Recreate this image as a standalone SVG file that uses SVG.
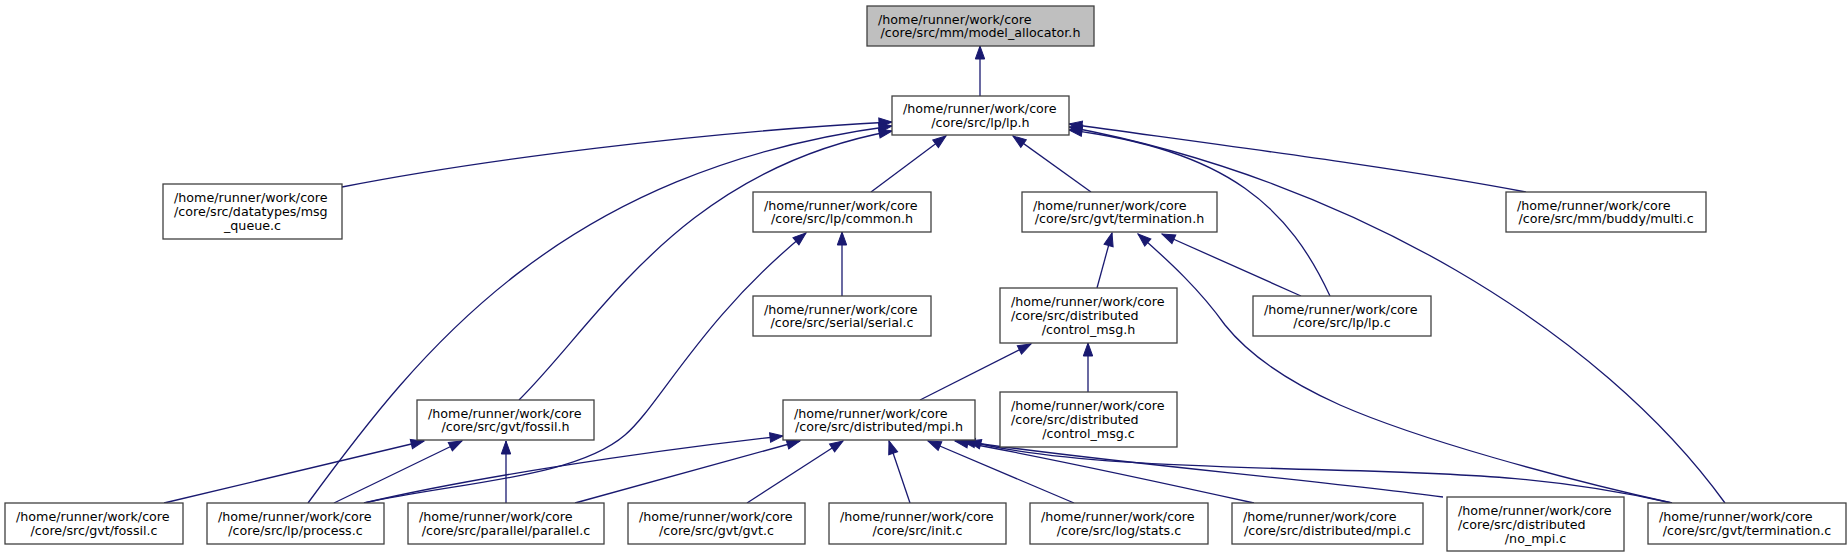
<svg xmlns="http://www.w3.org/2000/svg" width="1847" height="557" viewBox="0 0 1847 557">
<style>
.n rect{fill:#ffffff;stroke:#404040;stroke-width:1.3}
.n.root rect{fill:#bfbfbf}
text{font-family:"DejaVu Sans",sans-serif;font-size:12.7px;fill:#000000}
.m{text-anchor:middle}
.e path{fill:none;stroke:#191970;stroke-width:1.3;marker-end:url(#a)}
</style>
<defs>
<marker id="a" markerUnits="userSpaceOnUse" viewBox="-1 -1 16 12" markerWidth="16" markerHeight="12" refX="13" refY="5" orient="auto">
<path d="M0,0.3 L13,5 L0,9.7 z" fill="#191970" stroke="#191970" stroke-width="1"/>
</marker>
</defs>
<rect width="1847" height="557" fill="#ffffff"/>
<g id="connectors" class="e">
<path d="M980,96 L980,46"/>
<path d="M342,187 C480,160 700,132 892,122"/>
<path d="M308,503 C420,350 560,170 892,126"/>
<path d="M519,400 C600,320 680,170 892,131"/>
<path d="M871,192 L946,136"/>
<path d="M1091,192 L1013,136"/>
<path d="M1330,296 C1290,210 1230,150 1069,130"/>
<path d="M1725,503 C1600,330 1350,180 1069,127"/>
<path d="M1526,192 C1400,168 1220,145 1069,124"/>
<path d="M842,296 L842,232"/>
<path d="M364,503 C460,482 575,478 625,435 C660,405 700,320 806,233"/>
<path d="M164,503 L424,441"/>
<path d="M334,503 L462,441"/>
<path d="M506,503 L506,441"/>
<path d="M1097,288 L1112,233"/>
<path d="M1672,503 C1560,478 1420,440 1340,405 C1280,378 1245,350 1225,325 C1200,290 1170,262 1138,234"/>
<path d="M1301,296 L1162,234"/>
<path d="M1088,392 L1088,343"/>
<path d="M920,400 L1031,344"/>
<path d="M364,503 C470,478 640,452 783,436"/>
<path d="M575,503 L800,441"/>
<path d="M747,503 L843,441"/>
<path d="M910,503 L889,441"/>
<path d="M1074,503 L928,441"/>
<path d="M1254,503 C1150,480 1050,458 955,441"/>
<path d="M1443,497 C1300,478 1100,462 962,441"/>
<path d="M1672,503 C1560,478 1480,474 1330,470 C1180,466 1050,462 968,441"/>
</g>
<g id="model_allocator_h" class="n root"><rect x="867" y="6" width="227" height="40"/><text x="878" y="23.5">/home/runner/work/core</text><text class="m" x="980.5" y="37">/core/src/mm/model_allocator.h</text></g>
<g id="lp_h" class="n"><rect x="892" y="96" width="177" height="39"/><text x="903" y="113">/home/runner/work/core</text><text class="m" x="980.5" y="126.5">/core/src/lp/lp.h</text></g>
<g id="msg_queue_c" class="n"><rect x="163" y="184" width="179" height="55"/><text x="174" y="202">/home/runner/work/core</text><text x="174" y="216">/core/src/datatypes/msg</text><text class="m" x="252.5" y="230">_queue.c</text></g>
<g id="common_h" class="n"><rect x="753" y="192" width="178" height="40"/><text x="764" y="209.5">/home/runner/work/core</text><text class="m" x="842" y="223">/core/src/lp/common.h</text></g>
<g id="termination_h" class="n"><rect x="1022" y="192" width="195" height="40"/><text x="1033" y="209.5">/home/runner/work/core</text><text class="m" x="1119.5" y="223">/core/src/gvt/termination.h</text></g>
<g id="multi_c" class="n"><rect x="1506" y="192" width="200" height="40"/><text x="1517" y="209.5">/home/runner/work/core</text><text class="m" x="1606" y="223">/core/src/mm/buddy/multi.c</text></g>
<g id="fossil_h" class="n"><rect x="417" y="400" width="177" height="40"/><text x="428" y="417.5">/home/runner/work/core</text><text class="m" x="505.5" y="431">/core/src/gvt/fossil.h</text></g>
<g id="serial_c" class="n"><rect x="753" y="296" width="178" height="40"/><text x="764" y="313.5">/home/runner/work/core</text><text class="m" x="842" y="327">/core/src/serial/serial.c</text></g>
<g id="control_msg_h" class="n"><rect x="1000" y="288" width="177" height="55"/><text x="1011" y="306">/home/runner/work/core</text><text x="1011" y="320">/core/src/distributed</text><text class="m" x="1088.5" y="334">/control_msg.h</text></g>
<g id="lp_c" class="n"><rect x="1253" y="296" width="178" height="40"/><text x="1264" y="313.5">/home/runner/work/core</text><text class="m" x="1342" y="327">/core/src/lp/lp.c</text></g>
<g id="control_msg_c" class="n"><rect x="1000" y="392" width="177" height="55"/><text x="1011" y="410">/home/runner/work/core</text><text x="1011" y="424">/core/src/distributed</text><text class="m" x="1088.5" y="438">/control_msg.c</text></g>
<g id="mpi_h" class="n"><rect x="783" y="400" width="192" height="40"/><text x="794" y="417.5">/home/runner/work/core</text><text class="m" x="879" y="431">/core/src/distributed/mpi.h</text></g>
<g id="fossil_c" class="n"><rect x="5" y="503" width="178" height="41"/><text x="16" y="521">/home/runner/work/core</text><text class="m" x="94" y="534.5">/core/src/gvt/fossil.c</text></g>
<g id="process_c" class="n"><rect x="207" y="503" width="177" height="41"/><text x="218" y="521">/home/runner/work/core</text><text class="m" x="295.5" y="534.5">/core/src/lp/process.c</text></g>
<g id="parallel_c" class="n"><rect x="408" y="503" width="196" height="41"/><text x="419" y="521">/home/runner/work/core</text><text class="m" x="506" y="534.5">/core/src/parallel/parallel.c</text></g>
<g id="gvt_c" class="n"><rect x="628" y="503" width="177" height="41"/><text x="639" y="521">/home/runner/work/core</text><text class="m" x="716.5" y="534.5">/core/src/gvt/gvt.c</text></g>
<g id="init_c" class="n"><rect x="829" y="503" width="177" height="41"/><text x="840" y="521">/home/runner/work/core</text><text class="m" x="917.5" y="534.5">/core/src/init.c</text></g>
<g id="stats_c" class="n"><rect x="1030" y="503" width="178" height="41"/><text x="1041" y="521">/home/runner/work/core</text><text class="m" x="1119" y="534.5">/core/src/log/stats.c</text></g>
<g id="mpi_c" class="n"><rect x="1232" y="503" width="191" height="41"/><text x="1243" y="521">/home/runner/work/core</text><text class="m" x="1327.5" y="534.5">/core/src/distributed/mpi.c</text></g>
<g id="no_mpi_c" class="n"><rect x="1447" y="497" width="177" height="54"/><text x="1458" y="514.5">/home/runner/work/core</text><text x="1458" y="528.5">/core/src/distributed</text><text class="m" x="1535.5" y="542.5">/no_mpi.c</text></g>
<g id="termination_c" class="n"><rect x="1648" y="503" width="198" height="41"/><text x="1659" y="521">/home/runner/work/core</text><text class="m" x="1747" y="534.5">/core/src/gvt/termination.c</text></g>
</svg>
